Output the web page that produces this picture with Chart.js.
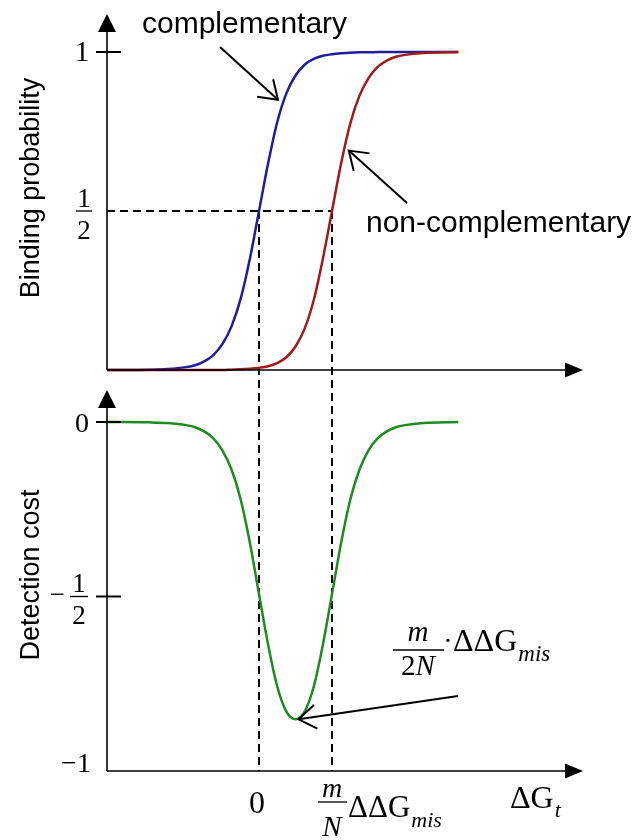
<!DOCTYPE html>
<html>
<head>
<meta charset="utf-8">
<script src="https://cdn.jsdelivr.net/npm/chart.js@4/dist/chart.umd.min.js"></script>
<style>
  html, body { margin: 0; padding: 0; background: #fff; }
  canvas { display: block; }
</style>
</head>
<body>
<canvas id="chart" width="639" height="840"></canvas>
<script>
// free energy axis, in units of (m/N)·ΔΔG_mis
const dG = [-2.08, -1.5, -1.25, -1.0, -0.875, -0.75, -0.625, -0.5, -0.375, -0.25, -0.125, 0,
    0.125, 0.25, 0.375, 0.5, 0.625, 0.75, 0.875, 1.0, 1.125, 1.25, 1.375, 1.5, 1.625, 1.75,
    1.875, 2.0, 2.25, 2.73];

const pComplementary = [0, 0.001, 0.003, 0.009, 0.015, 0.027, 0.047, 0.082, 0.138, 0.225, 0.35, 0.5,
    0.65, 0.78, 0.87, 0.926, 0.96, 0.978, 0.988, 0.993, 0.996, 0.998, 0.999, 0.999, 1, 1,
    1, 1, 1, 1];

const pNonComplementary = [0, 0, 0, 0, 0, 0, 0, 0, 0.001, 0.002, 0.004, 0.007,
    0.012, 0.022, 0.04, 0.074, 0.13, 0.22, 0.35, 0.5, 0.65, 0.775, 0.862, 0.918, 0.953, 0.973,
    0.985, 0.991, 0.997, 1];

const detectionCost = [0, -0.001, -0.003, -0.009, -0.015, -0.027, -0.047, -0.082, -0.137, -0.223, -0.346, -0.493,
    -0.638, -0.758, -0.83, -0.852, -0.83, -0.758, -0.638, -0.493, -0.346, -0.223, -0.137, -0.081, -0.047, -0.027,
    -0.015, -0.009, -0.003, 0];

const colors = {
    blue: '#1e1e9c',
    red: '#9e1b1b',
    green: '#1f8a1f',
    ink: '#000',
};

const serif = '"Liberation Serif", "Times New Roman", serif';
const sans = '"Liberation Sans", Arial, sans-serif';

const toPoints = (ys) => dG.map((x, i) => ({ x, y: ys[i] }));

function line(ctx, x1, y1, x2, y2) {
    ctx.beginPath();
    ctx.moveTo(x1, y1);
    ctx.lineTo(x2, y2);
    ctx.stroke();
}

function pointer(ctx, fromX, fromY, toX, toY) {
    const ang = Math.atan2(toY - fromY, toX - fromX);
    const len = 21;
    const spread = 0.6;
    line(ctx, fromX, fromY, toX, toY);
    ctx.beginPath();
    ctx.moveTo(toX - len * Math.cos(ang - spread), toY - len * Math.sin(ang - spread));
    ctx.lineTo(toX, toY);
    ctx.lineTo(toX - len * Math.cos(ang + spread), toY - len * Math.sin(ang + spread));
    ctx.stroke();
}

function headUp(ctx, x, y) {
    ctx.beginPath();
    ctx.moveTo(x, y);
    ctx.lineTo(x - 9, y + 18);
    ctx.lineTo(x + 9, y + 18);
    ctx.closePath();
    ctx.fill();
}

function headRight(ctx, x, y) {
    ctx.beginPath();
    ctx.moveTo(x, y);
    ctx.lineTo(x - 18, y - 7.5);
    ctx.lineTo(x - 18, y + 7.5);
    ctx.closePath();
    ctx.fill();
}

function text(ctx, s, x, y, font, align = 'center') {
    ctx.font = font;
    ctx.textAlign = align;
    ctx.textBaseline = 'alphabetic';
    ctx.fillText(s, x, y);
    return ctx.measureText(s).width;
}

function fraction(ctx, cx, barY, num, den, font, barW) {
    text(ctx, num, cx, barY - 4, font);
    text(ctx, den, cx, barY + 28, font);
    ctx.lineWidth = 1.3;
    line(ctx, cx - barW / 2, barY, cx + barW / 2, barY);
}

const sketch = {
    id: 'sketch',
    beforeDatasetsDraw(chart) {
        const { ctx, chartArea, scales: { x, yTop, yBot } } = chart;
        const x0 = x.getPixelForValue(0);
        const x1 = x.getPixelForValue(1);
        const yHalf = yTop.getPixelForValue(0.5);
        const yEnd = yBot.getPixelForValue(-1);
        ctx.save();
        ctx.strokeStyle = colors.ink;
        ctx.lineWidth = 2;
        ctx.setLineDash([8, 5]);
        line(ctx, chartArea.left, yHalf, x1, yHalf);
        line(ctx, x0, yHalf, x0, yEnd);
        line(ctx, x1, yHalf, x1, yEnd);
        ctx.restore();
    },
    afterDatasetsDraw(chart) {
        const { ctx, chartArea, scales: { x, yTop, yBot } } = chart;
        const left = chartArea.left;
        const right = chartArea.right;
        const topBase = yTop.getPixelForValue(0);
        const botBase = yBot.getPixelForValue(-1);
        const botTip = yBot.getPixelForValue(0.092);

        ctx.save();
        ctx.strokeStyle = colors.ink;
        ctx.fillStyle = colors.ink;
        ctx.lineWidth = 1.6;

        // axes
        line(ctx, left, topBase, left, chartArea.top + 16);
        headUp(ctx, left, chartArea.top);
        line(ctx, left, topBase, right - 16, topBase);
        headRight(ctx, right, topBase);
        line(ctx, left, botBase, left, botTip + 16);
        headUp(ctx, left, botTip);
        line(ctx, left, botBase, right - 16, botBase);
        headRight(ctx, right, botBase);

        // tick marks
        ctx.lineWidth = 2;
        [yTop.getPixelForValue(1), yBot.getPixelForValue(0), yBot.getPixelForValue(-0.5)].forEach((py) => {
            line(ctx, left - 11, py, left + 14, py);
        });

        // tick labels
        text(ctx, '1', 82, 61, `29px ${serif}`);
        fraction(ctx, 84, yTop.getPixelForValue(0.5), '1', '2', `27px ${serif}`, 16);
        text(ctx, '0', 82, 432, `28px ${serif}`);
        const yMinusHalf = yBot.getPixelForValue(-0.5);
        fraction(ctx, 79, yMinusHalf, '1', '2', `27px ${serif}`, 18);
        text(ctx, '\u2212', 57, yMinusHalf + 7, `27px ${serif}`);
        text(ctx, '\u22121', 76, 772, `28px ${serif}`);

        // x labels
        const x0 = x.getPixelForValue(0);
        const x1 = x.getPixelForValue(1);
        text(ctx, '0', x0 - 2, 813, `32px ${serif}`);
        text(ctx, 'm', x1, 797, `italic 28px ${serif}`);
        ctx.lineWidth = 1.3;
        line(ctx, x1 - 14, 802, x1 + 15, 802);
        text(ctx, 'N', x1, 836, `italic 29px ${serif}`);
        let w = text(ctx, '\u0394\u0394G', x1 + 16, 817, `31px ${serif}`, 'left');
        text(ctx, 'mis', x1 + 17 + w, 827, `italic 22px ${serif}`, 'left');

        w = text(ctx, '\u0394G', 510, 808, `32px ${serif}`, 'left');
        text(ctx, 't', 511 + w, 817, `italic 22px ${serif}`, 'left');

        // axis titles
        ctx.font = `27px ${sans}`;
        ctx.textAlign = 'center';
        ctx.textBaseline = 'alphabetic';
        ctx.save();
        ctx.translate(39, 188);
        ctx.rotate(-Math.PI / 2);
        ctx.fillText('Binding probability', 0, 0);
        ctx.restore();
        ctx.save();
        ctx.translate(39, 575);
        ctx.rotate(-Math.PI / 2);
        ctx.fillText('Detection cost', 0, 0);
        ctx.restore();

        // curve annotations
        text(ctx, 'complementary', 142, 33, `30px ${sans}`, 'left');
        text(ctx, 'non-complementary', 366, 232, `30px ${sans}`, 'left');

        // min cost annotation
        text(ctx, 'm', 418, 641, `italic 29px ${serif}`);
        ctx.lineWidth = 1.3;
        line(ctx, 393, 650, 444, 650);
        ctx.font = `29px ${serif}`;
        const w2 = ctx.measureText('2').width;
        ctx.font = `italic 29px ${serif}`;
        const wN = ctx.measureText('N').width;
        const sx = 418 - (w2 + wN) / 2;
        text(ctx, '2', sx, 675, `29px ${serif}`, 'left');
        text(ctx, 'N', sx + w2, 675, `italic 29px ${serif}`, 'left');
        text(ctx, '\u00b7', 448, 650, `28px ${serif}`);
        w = text(ctx, '\u0394\u0394G', 453, 651, `32px ${serif}`, 'left');
        text(ctx, 'mis', 454 + w, 661, `italic 23px ${serif}`, 'left');

        // pointer arrows
        ctx.lineWidth = 2;
        const tip1 = [x.getPixelForValue(0.26), yTop.getPixelForValue(0.85)];
        pointer(ctx, 220, 47, tip1[0], tip1[1]);
        const tip2 = [x.getPixelForValue(1.23), yTop.getPixelForValue(0.69)];
        pointer(ctx, 407, 203, tip2[0], tip2[1]);
        const tip3 = [x.getPixelForValue(0.5) + 3, yBot.getPixelForValue(-0.852)];
        pointer(ctx, 458, 696, tip3[0], tip3[1]);

        ctx.restore();
    },
};

const curve = (extra) => ({
    pointRadius: 0,
    borderWidth: 2.5,
    fill: false,
    cubicInterpolationMode: 'monotone',
    ...extra,
});

new Chart(document.getElementById('chart'), {
    type: 'line',
    data: {
        datasets: [
            curve({ label: 'non-complementary', data: toPoints(pNonComplementary), borderColor: colors.red, yAxisID: 'yTop', order: 0 }),
            curve({ label: 'complementary', data: toPoints(pComplementary), borderColor: colors.blue, yAxisID: 'yTop', order: 1 }),
            curve({ label: 'Detection cost', data: toPoints(detectionCost), borderColor: colors.green, yAxisID: 'yBot', order: 2 }),
        ],
    },
    options: {
        responsive: false,
        animation: false,
        devicePixelRatio: 1,
        layout: { padding: { left: 107, right: 56, top: 14, bottom: 69 } },
        plugins: {
            legend: { display: false },
            tooltip: { enabled: false },
        },
        scales: {
            x: { type: 'linear', min: -2.082, max: 4.438, display: false },
            yTop: { type: 'linear', position: 'left', min: -1.261, max: 1.1195, display: false },
            yBot: { type: 'linear', position: 'left', min: -1, max: 1.169, display: false },
        },
    },
    plugins: [sketch],
});
</script>
</body>
</html>
